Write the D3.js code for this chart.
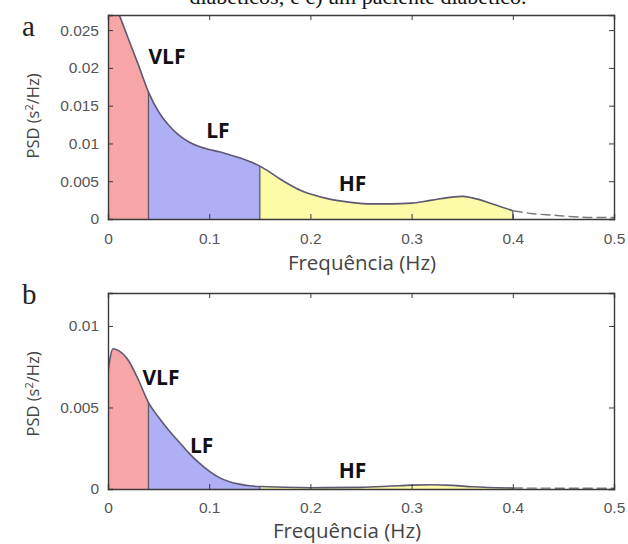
<!DOCTYPE html>
<html lang="pt">
<head>
<meta charset="UTF-8">
<title>PSD</title>
<script src="https://cdnjs.cloudflare.com/ajax/libs/d3/7.8.5/d3.min.js"></script>
<style>
  body { margin: 0; background: #fff; }
  .tick text { font-family: "Liberation Sans", Arial, sans-serif; font-size: 15.5px; fill: #555; }
</style>
</head>
<body>
<script>
    // frequencies (Hz) and PSD values (s^2/Hz)
    var freqA = [0, 0.01, 0.02, 0.03, 0.04, 0.05, 0.06, 0.07, 0.08, 0.09, 0.10, 0.11, 0.12, 0.13, 0.14, 0.15,
                 0.16, 0.17, 0.18, 0.19, 0.20, 0.22, 0.24, 0.26, 0.28, 0.30, 0.32, 0.34, 0.35, 0.36, 0.38, 0.40,
                 0.42, 0.44, 0.46, 0.48, 0.50];
    var psdA  = [0.0309, 0.0274, 0.0239, 0.0204, 0.0168, 0.0142, 0.0124, 0.0111, 0.0102, 0.0096, 0.0092, 0.0089,
                 0.0085, 0.0081, 0.0076, 0.0070, 0.0062, 0.0053, 0.0045, 0.0038, 0.0033, 0.0026, 0.0022, 0.0020,
                 0.0020, 0.0021, 0.0025, 0.0029, 0.0030, 0.0028, 0.0020, 0.0011, 0.0007, 0.0005, 0.0003, 0.0002, 0.0002];

    var freqB = [0, 0.005, 0.01, 0.02, 0.03, 0.04, 0.05, 0.06, 0.07, 0.08, 0.09, 0.10, 0.11, 0.12, 0.13, 0.14, 0.15,
                 0.20, 0.25, 0.28, 0.30, 0.32, 0.34, 0.36, 0.40, 0.45, 0.50];
    var psdB  = [0.0072, 0.0086, 0.0085, 0.0079, 0.0067, 0.0053, 0.0044, 0.0036, 0.0029, 0.0022, 0.0016, 0.0011,
                 0.0007, 0.00045, 0.0003, 0.0002, 0.00015, 0.00008, 0.0001, 0.00018, 0.00024, 0.00026, 0.00022,
                 0.00014, 0.00006, 0.00005, 0.00005];

    var bands = [
        {name: "VLF", lo: 0,    hi: 0.04, color: "#f6a6a6"},
        {name: "LF",  lo: 0.04, hi: 0.15, color: "#afaff6"},
        {name: "HF",  lo: 0.15, hi: 0.40, color: "#fcfba8"}
    ];
    var xTicks = [0, 0.1, 0.2, 0.3, 0.4, 0.5];
    var yTicksA = [0, 0.005, 0.01, 0.015, 0.02, 0.025];
    var yTicksB = [0, 0.005, 0.01];

    var width = 628, height = 544;
    var svg = d3.select("body").append("svg")
        .attr("width", width)
        .attr("height", height);

    // caption line of the page above the figure, cut by the crop
    svg.append("text")
        .attr("x", 358).attr("y", 4)
        .attr("text-anchor", "middle")
        .style("font-family", "'Liberation Serif', serif")
        .style("font-size", "22px")
        .attr("fill", "#111")
        .text("diabéticos; e c) um paciente diabético.");

    function drawPanel(opt) {
        var g = svg.append("g");
        var x = d3.scaleLinear().domain([0, 0.5]).range([108, 614]);
        var y = d3.scaleLinear().domain([0, opt.ymax]).range([opt.bottom, opt.top]);
        var data = opt.freq.map(function(f, i) { return {f: f, v: opt.psd[i]}; });

        var clipId = "clip" + opt.id;
        var defs = svg.append("defs");
        defs.append("clipPath").attr("id", clipId).append("rect")
            .attr("x", x(0)).attr("y", y(opt.ymax))
            .attr("width", x(0.5) - x(0)).attr("height", y(0) - y(opt.ymax));

        var area = d3.area()
            .x(function(d) { return x(d.f); })
            .y0(y(0))
            .y1(function(d) { return y(d.v); })
            .curve(d3.curveMonotoneX);
        var line = d3.line()
            .x(function(d) { return x(d.f); })
            .y(function(d) { return y(d.v); })
            .curve(d3.curveMonotoneX);

        var plot = g.append("g").attr("clip-path", "url(#" + clipId + ")");

        bands.forEach(function(b, i) {
            var bid = clipId + "b" + i;
            defs.append("clipPath").attr("id", bid).append("rect")
                .attr("x", x(b.lo)).attr("y", y(opt.ymax))
                .attr("width", x(b.hi) - x(b.lo)).attr("height", y(0) - y(opt.ymax));
            plot.append("g").attr("clip-path", "url(#" + bid + ")")
                .append("path").datum(data)
                .attr("d", area)
                .attr("fill", b.color);
        });

        // band separators
        [0.04, 0.15, 0.4].forEach(function(f) {
            var d = data.find(function(p) { return p.f === f; });
            plot.append("line")
                .attr("x1", x(f)).attr("x2", x(f))
                .attr("y1", y(0)).attr("y2", y(d.v))
                .attr("stroke", "#5d5a66").attr("stroke-width", 1.3);
        });

        // spectrum line: solid up to 0.4 Hz, faded dashed beyond
        var inBand = data.filter(function(d) { return d.f <= 0.4; });
        var tail = data.filter(function(d) { return d.f >= 0.4; });
        plot.append("path").datum(inBand)
            .attr("d", line)
            .attr("fill", "none")
            .attr("stroke", "#5e5872").attr("stroke-width", 1.6);
        plot.append("path").datum(tail)
            .attr("d", line)
            .attr("fill", "none")
            .attr("stroke", "#7a7a7a").attr("stroke-width", 1.4)
            .attr("stroke-dasharray", "10,4");

        // axes, matlab style ticks pointing inwards
        var bottomAxis = d3.axisBottom(x).tickValues(xTicks).tickSize(-5).tickPadding(opt.xPad)
            .tickFormat(function(d) { return d === 0 ? "0" : d3.format(".1f")(d); });
        var leftAxis = d3.axisLeft(y).tickValues(opt.yTicks).tickSize(-5).tickPadding(9)
            .tickFormat(function(d) { return d === 0 ? "0" : String(+d.toFixed(3)); });

        g.append("g").attr("transform", "translate(0," + y(0) + ")").call(bottomAxis);
        g.append("g").attr("transform", "translate(" + x(0) + ",0)").call(leftAxis);
        g.append("g").attr("transform", "translate(0," + y(opt.ymax) + ")")
            .call(d3.axisTop(x).tickValues(xTicks).tickSize(-5).tickFormat(""));
        g.append("g").attr("transform", "translate(" + x(0.5) + ",0)")
            .call(d3.axisRight(y).tickValues(opt.yTicks).tickSize(-5).tickFormat(""));

        g.selectAll(".domain").attr("stroke", "#3a3a3a").attr("stroke-width", 1.4);
        g.selectAll(".tick line").attr("stroke", "#3a3a3a");

        // band names
        opt.labels.forEach(function(l) {
            g.append("text")
                .attr("x", x(l.f)).attr("y", y(l.v))
                .style("font-family", "'Open Sans', sans-serif")
                .style("font-weight", "bold")
                .style("font-size", "21px")
                .attr("fill", "#111")
                .text(l.text);
        });

        // panel letter
        g.append("text")
            .attr("x", 22).attr("y", opt.letterY)
            .style("font-family", "'Liberation Serif', serif")
            .style("font-size", "29px")
            .attr("fill", "#222")
            .text(opt.letter);

        // axis titles
        g.append("text")
            .attr("x", opt.titleX).attr("y", y(0) + opt.titleDy)
            .attr("text-anchor", "middle")
            .style("font-family", "'Open Sans', sans-serif")
            .style("font-size", "20.5px")
            .attr("fill", "#444")
            .text("Frequência (Hz)");

        var yl = g.append("text")
            .attr("transform", "translate(39," + opt.yLabelY + ") rotate(-90)")
            .attr("text-anchor", "middle")
            .style("font-family", "'Open Sans', sans-serif")
            .style("font-size", "16.5px")
            .attr("fill", "#444");
        yl.append("tspan").text("PSD (s");
        yl.append("tspan").attr("dy", -6).style("font-size", "11px").text("2");
        yl.append("tspan").attr("dy", 6).text("/Hz)");
    }

    drawPanel({
        id: "a", freq: freqA, psd: psdA, ymax: 0.027, top: 15, bottom: 219,
        yTicks: yTicksA, letter: "a", letterY: 36, yLabelY: 116,
        xPad: 14, titleX: 362, titleDy: 51,
        labels: [
            {text: "VLF", f: 0.04, v: 0.0205},
            {text: "LF",  f: 0.097, v: 0.0107},
            {text: "HF",  f: 0.228, v: 0.0037}
        ]
    });

    drawPanel({
        id: "b", freq: freqB, psd: psdB, ymax: 0.01202, top: 293, bottom: 489,
        yTicks: yTicksB, letter: "b", letterY: 304, yLabelY: 394,
        xPad: 12.5, titleX: 347, titleDy: 48.8,
        labels: [
            {text: "VLF", f: 0.034, v: 0.0064},
            {text: "LF",  f: 0.081, v: 0.0022},
            {text: "HF",  f: 0.228, v: 0.00068}
        ]
    });
</script>
</body>
</html>
